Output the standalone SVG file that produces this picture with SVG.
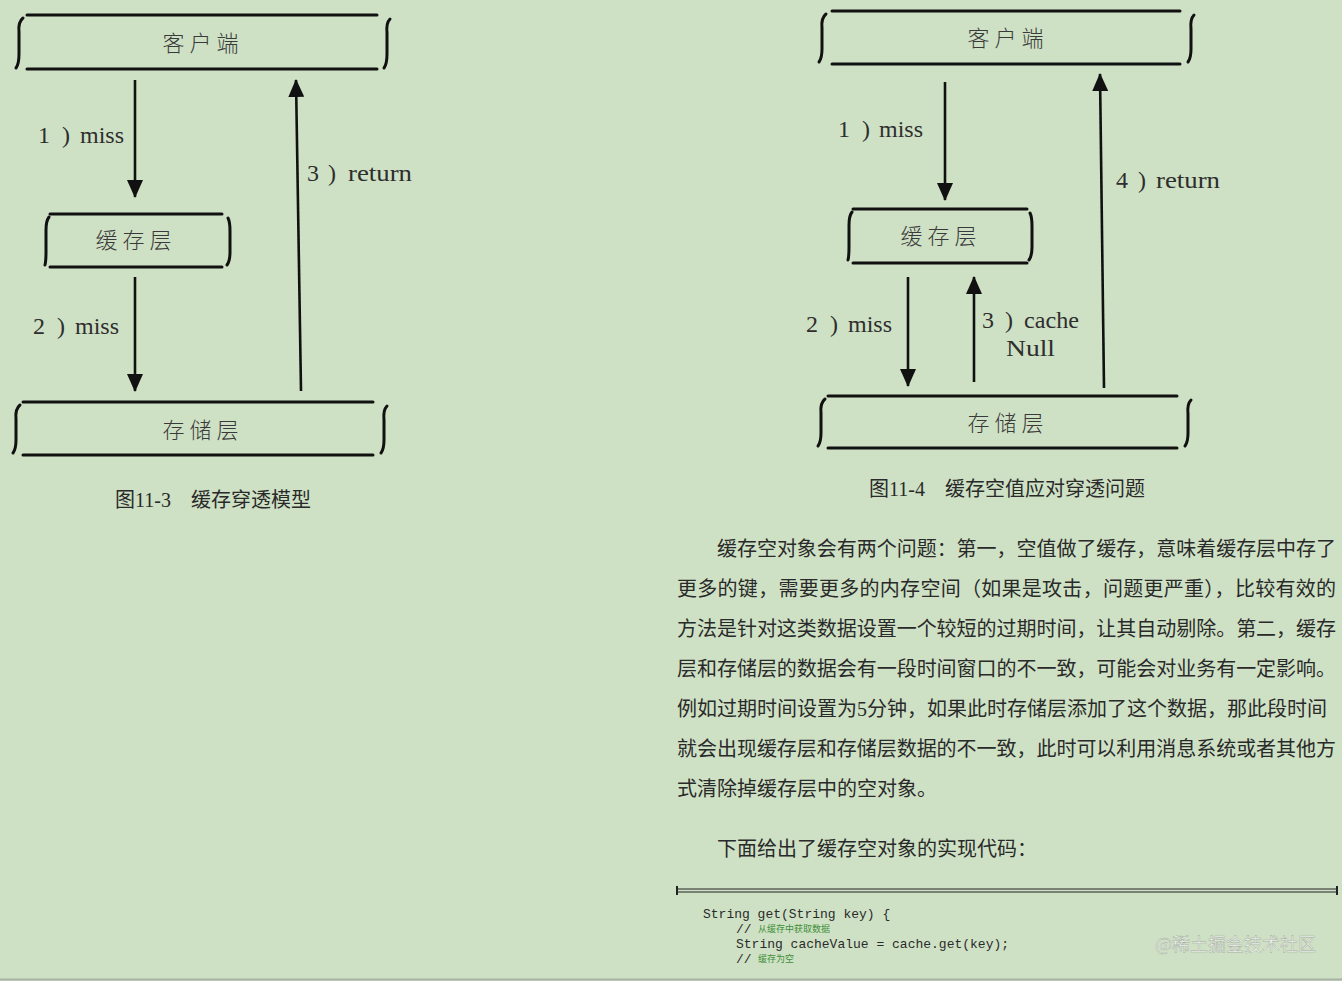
<svg xmlns="http://www.w3.org/2000/svg" width="1342" height="981" viewBox="0 0 1342 981">
<style>
.bg{fill:#cfe1c5}
.edge{stroke:#111;stroke-width:3;fill:none;stroke-linecap:round}
.brk{stroke:#111;stroke-width:3;fill:none;stroke-linecap:round;stroke-linejoin:round}
.arr{stroke:#111;stroke-width:2.6;fill:none}
.node{font-family:"Noto Sans CJK SC",sans-serif;font-size:22px;font-weight:300;fill:#3a3a3a;text-anchor:middle;letter-spacing:5px}
.lbl{font-family:"Liberation Serif","DejaVu Serif",serif;font-size:24px;fill:#2e2e2e}
.cap{font-family:"Liberation Serif","Noto Sans CJK SC",serif;font-size:20px;fill:#2a2a2a}
.para{font-family:"Liberation Serif","Noto Sans CJK SC",serif;font-size:20px;fill:#2a2a2a}
.code{font-family:"Liberation Mono","DejaVu Sans Mono",monospace;font-size:13px;fill:#2a2a2a;white-space:pre}
.cmt{font-family:"Noto Sans CJK SC",sans-serif;font-size:9px;fill:#3f8f3a}
.wm{font-family:"Noto Sans CJK SC",sans-serif;font-size:18px;fill:#f3f6f1;stroke:#a4ada0;stroke-width:0.5}
</style>
<defs>
<marker id="ah" viewBox="0 0 18 16" refX="17" refY="8" markerWidth="18" markerHeight="16" markerUnits="userSpaceOnUse" orient="auto">
<path d="M0,0 L18,8 L0,16 z" fill="#111"/>
</marker>
</defs>
<rect class="bg" x="0" y="0" width="1342" height="981"/>

<!-- Left diagram -->
<g id="l-client">
<line class="edge" x1="27" y1="15" x2="377" y2="15"/>
<line class="edge" x1="27" y1="69" x2="377" y2="69"/>
<path class="brk" d="M23,18 Q18,22 19,32 L19,54 Q19,64 16,68"/>
<path class="brk" d="M390,19 Q386,23 387,33 L387,54 Q387,64 384,68"/>
<text class="node" x="203" y="51">客户端</text>
</g>
<g id="l-cache">
<line class="edge" x1="50" y1="214" x2="222" y2="214"/>
<line class="edge" x1="50" y1="267" x2="222" y2="267"/>
<path class="brk" d="M49,217 Q46,221 46,230 L46,252 Q46,261 45,265"/>
<path class="brk" d="M228,218 Q230,222 230,231 L230,252 Q230,261 227,265"/>
<text class="node" x="136" y="248">缓存层</text>
</g>
<g id="l-storage">
<line class="edge" x1="23" y1="402" x2="373" y2="402"/>
<line class="edge" x1="23" y1="455" x2="373" y2="455"/>
<path class="brk" d="M20,405 Q15,409 16,419 L16,440 Q16,449 13,453"/>
<path class="brk" d="M387,406 Q383,410 384,420 L384,440 Q384,449 381,453"/>
<text class="node" x="203" y="438">存储层</text>
</g>
<text class="cap" x="115" y="507">图11-3　缓存穿透模型</text>

<!-- Right diagram -->
<g id="r-client">
<line class="edge" x1="832" y1="11" x2="1180" y2="11"/>
<line class="edge" x1="832" y1="64" x2="1180" y2="64"/>
<path class="brk" d="M826,14 Q821,18 822,28 L822,49 Q822,58 819,62"/>
<path class="brk" d="M1194,15 Q1190,19 1191,29 L1191,49 Q1191,58 1188,62"/>
<text class="node" x="1008" y="46">客户端</text>
</g>
<g id="r-cache">
<line class="edge" x1="853" y1="209" x2="1027" y2="209"/>
<line class="edge" x1="853" y1="263" x2="1027" y2="263"/>
<path class="brk" d="M852,212 Q849,216 849,225 L849,247 Q849,256 848,260"/>
<path class="brk" d="M1030,213 Q1032,217 1032,226 L1032,247 Q1032,256 1029,260"/>
<text class="node" x="941" y="244">缓存层</text>
</g>
<g id="r-storage">
<line class="edge" x1="828" y1="396" x2="1177" y2="396"/>
<line class="edge" x1="828" y1="448" x2="1177" y2="448"/>
<path class="brk" d="M825,399 Q820,403 821,413 L821,433 Q821,442 818,446"/>
<path class="brk" d="M1191,400 Q1187,404 1188,414 L1188,433 Q1188,442 1185,446"/>
<text class="node" x="1008" y="431">存储层</text>
</g>
<text class="cap" x="869" y="496">图11-4　缓存空值应对穿透问题</text>

<g id="connectors">
<line class="arr" x1="135" y1="80" x2="135" y2="197" marker-end="url(#ah)"/>
<line class="arr" x1="135" y1="277" x2="135" y2="391" marker-end="url(#ah)"/>
<line class="arr" x1="301" y1="391" x2="296" y2="80" marker-end="url(#ah)"/>
<line class="arr" x1="945" y1="82" x2="945" y2="200" marker-end="url(#ah)"/>
<line class="arr" x1="1104" y1="388" x2="1100" y2="74" marker-end="url(#ah)"/>
<line class="arr" x1="908" y1="277" x2="908" y2="386" marker-end="url(#ah)"/>
<line class="arr" x1="974" y1="382" x2="974" y2="277" marker-end="url(#ah)"/>
</g>

<g id="labels">
<text class="lbl" y="143"><tspan x="38">1</tspan><tspan x="62">)</tspan><tspan x="80">miss</tspan></text>
<text class="lbl" y="334"><tspan x="33">2</tspan><tspan x="57">)</tspan><tspan x="75">miss</tspan></text>
<text class="lbl" y="181"><tspan x="307">3</tspan><tspan x="328">)</tspan></text>
<text class="lbl" x="348" y="181" textLength="64" lengthAdjust="spacingAndGlyphs">return</text>
<text class="lbl" y="137"><tspan x="838">1</tspan><tspan x="862">)</tspan><tspan x="879">miss</tspan></text>
<text class="lbl" y="188"><tspan x="1116">4</tspan><tspan x="1138">)</tspan></text>
<text class="lbl" x="1156" y="188" textLength="64" lengthAdjust="spacingAndGlyphs">return</text>
<text class="lbl" y="332"><tspan x="806">2</tspan><tspan x="830">)</tspan><tspan x="848">miss</tspan></text>
<text class="lbl" y="328"><tspan x="982">3</tspan><tspan x="1005">)</tspan></text>
<text class="lbl" x="1024" y="328" textLength="55" lengthAdjust="spacingAndGlyphs">cache</text>
<text class="lbl" x="1006" y="356" textLength="49" lengthAdjust="spacingAndGlyphs">Null</text>
</g>

<g id="paragraph">
<text class="para" x="717" y="556" textLength="619" lengthAdjust="spacing">缓存空对象会有两个问题：第一，空值做了缓存，意味着缓存层中存了</text>
<text class="para" x="677" y="596" textLength="659" lengthAdjust="spacing">更多的键，需要更多的内存空间（如果是攻击，问题更严重），比较有效的</text>
<text class="para" x="677" y="636" textLength="659" lengthAdjust="spacing">方法是针对这类数据设置一个较短的过期时间，让其自动剔除。第二，缓存</text>
<text class="para" x="677" y="676" textLength="659" lengthAdjust="spacing">层和存储层的数据会有一段时间窗口的不一致，可能会对业务有一定影响。</text>
<text class="para" x="677" y="716">例如过期时间设置为5分钟，如果此时存储层添加了这个数据，那此段时间</text>
<text class="para" x="677" y="756" textLength="659" lengthAdjust="spacing">就会出现缓存层和存储层数据的不一致，此时可以利用消息系统或者其他方</text>
<text class="para" x="677" y="796">式清除掉缓存层中的空对象。</text>
<text class="para" x="717" y="856">下面给出了缓存空对象的实现代码：</text>
</g>

<g id="code">
<line x1="677" y1="889" x2="1337" y2="889" stroke="#222" stroke-width="1.2"/>
<line x1="677" y1="892" x2="1337" y2="892" stroke="#222" stroke-width="1.2"/>
<line x1="677" y1="886" x2="677" y2="895" stroke="#222" stroke-width="2"/>
<line x1="1337" y1="886" x2="1337" y2="895" stroke="#222" stroke-width="2"/>
<text class="code" x="703" y="918">String get(String key) {</text>
<text class="code" x="736" y="933">//</text>
<text class="cmt" x="758" y="932">从缓存中获取数据</text>
<text class="code" x="736" y="948">String cacheValue = cache.get(key);</text>
<text class="code" x="736" y="963">//</text>
<text class="cmt" x="758" y="962">缓存为空</text>
</g>
<text class="wm" x="1155" y="951">@稀土掘金技术社区</text>
<line x1="0" y1="979.5" x2="1342" y2="979.5" stroke="#a9b2a5" stroke-width="2"/>
</svg>
